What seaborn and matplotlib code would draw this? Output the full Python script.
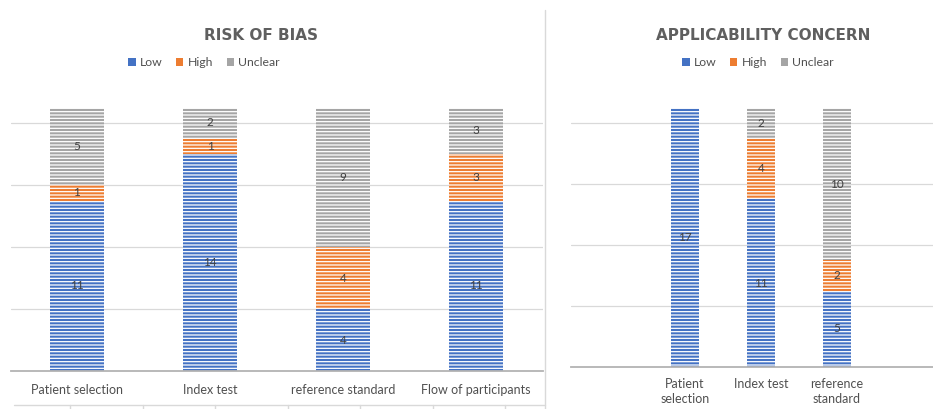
import matplotlib
matplotlib.use("Agg")
import matplotlib.pyplot as plt
from matplotlib.patches import Patch
from matplotlib.lines import Line2D
import pandas as pd
import seaborn as sns

# QUADAS-2 style summary: number of studies per judgement
bias_domains = ["Patient selection", "Index test", "reference standard", "Flow of participants"]
bias_low = [11, 14, 4, 11]
bias_high = [1, 1, 4, 3]
bias_unclear = [5, 2, 9, 3]

appl_domains = ["Patient\nselection", "Index test", "reference\nstandard"]
appl_low = [17, 11, 5]
appl_high = [0, 4, 2]
appl_unclear = [0, 2, 10]

judgements = ["Low", "High", "Unclear"]
colors = {"Low": "#4472C4", "High": "#ED7D31", "Unclear": "#A5A5A5"}

sns.set_theme(style="white")
plt.rcParams["font.family"] = ["Lato", "DejaVu Sans"]
plt.rcParams["hatch.linewidth"] = 0.9

TEXT = "#505050"
GRID = "#d9d9d9"

fig = plt.figure(figsize=(9.33, 4.09), dpi=100)
W, H = 933, 409


def px_axes(x0, x1, ytop, ybot):
    return fig.add_axes([x0 / W, 1 - ybot / H, (x1 - x0) / W, (ybot - ytop) / H])


def stacked(ax, domains, low, high, unclear, width, xlim, pad):
    df = pd.DataFrame({"domain": domains, "Low": low, "High": high, "Unclear": unclear})
    df["cum_high"] = df["Low"] + df["High"]
    df["cum_unclear"] = df["cum_high"] + df["Unclear"]
    # draw cumulative totals from the top segment down so each stack shows three parts
    for col, key in [("cum_unclear", "Unclear"), ("cum_high", "High"), ("Low", "Low")]:
        sns.barplot(data=df, x="domain", y=col, order=domains, color=colors[key],
                    saturation=1, width=width, errorbar=None, ax=ax,
                    hatch="-----", edgecolor="white", linewidth=0, zorder=2)
    # value labels in the middle of every segment
    for i, row in df.iterrows():
        base = 0
        for key in judgements:
            v = row[key]
            if v > 0:
                ax.text(i, base + v / 2, f"{v}", ha="center", va="center",
                        fontsize=8.5, color="#404040", zorder=3)
            base += v
    ax.set_xlim(*xlim)
    ax.set_ylim(0, 17)
    ax.set_yticks([4, 8, 12, 16])
    ax.set_yticklabels([])
    ax.yaxis.grid(True, color=GRID, linewidth=0.9, zorder=0)
    ax.set_axisbelow(True)
    ax.tick_params(axis="y", length=0)
    ax.tick_params(axis="x", length=0, pad=pad, labelsize=9, labelcolor=TEXT)
    ax.set_xlabel("")
    ax.set_ylabel("")
    for s in ["top", "left", "right"]:
        ax.spines[s].set_visible(False)
    ax.spines["bottom"].set_color("#b3b3b3")
    ax.spines["bottom"].set_linewidth(1.3)
    ax.set_facecolor("none")


ax1 = px_axes(10.5, 542.5, 107.5, 371)
stacked(ax1, bias_domains, bias_low, bias_high, bias_unclear, 0.4, (-0.5, 3.5), 9)

ax2 = px_axes(571, 951, 108, 367)
stacked(ax2, appl_domains, appl_low, appl_high, appl_unclear, 0.38, (-1.5, 3.5), 8)
for lab in ax2.get_xticklabels():
    lab.set_linespacing(1.25)

# titles and legends
for cx, title in [(261, "RISK OF BIAS"), (763, "APPLICABILITY CONCERN")]:
    fig.text(cx / W, 1 - 36 / H, title, ha="center", va="center",
             fontsize=11, fontweight="bold", color="#5f5f5f", family="DejaVu Sans")

handles = [Patch(facecolor=colors[k], edgecolor="none") for k in judgements]
for cx in (204, 758):
    fig.legend(handles, judgements, loc="center", bbox_to_anchor=(cx / W, 1 - 63 / H),
               ncol=3, frameon=False, fontsize=8.8, labelcolor=TEXT,
               handlelength=0.6, handleheight=0.6, handletextpad=0.35,
               columnspacing=1.1)

# panel separator and the ruled strip along the bottom
fig.add_artist(Line2D([545 / W, 545 / W], [0, 1 - 10 / H], color=GRID, linewidth=1))
fig.add_artist(Line2D([14 / W, 545 / W], [1 - 405 / H, 1 - 405 / H], color=GRID, linewidth=1))
for tx in [70, 143, 215, 288, 360, 433, 505]:
    fig.add_artist(Line2D([tx / W, tx / W], [0, 1 - 405 / H], color=GRID, linewidth=1))

fig.savefig("out.png", dpi=100, facecolor="white")
